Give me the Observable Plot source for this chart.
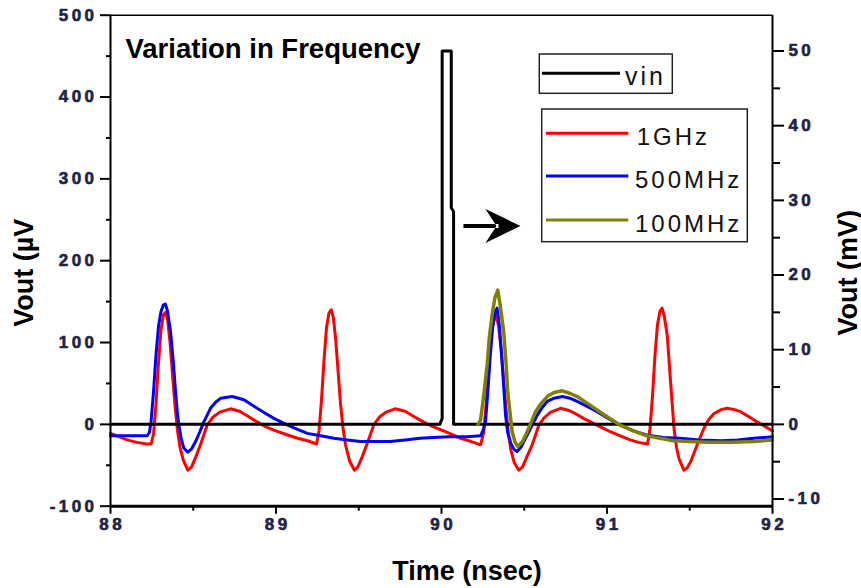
<!DOCTYPE html>
<html><head><meta charset="utf-8">
<script src="https://cdn.jsdelivr.net/npm/d3@7"></script>
<script src="https://cdn.jsdelivr.net/npm/@observablehq/plot@0.6"></script>
<style>
body{margin:0;background:#fff;}
svg text{font-family:"Liberation Sans",Arial,sans-serif;}
</style></head><body><div id="chart"></div>
<script>
// ---- data (µV vs ns; vin in mV) ----
const red1GHz = [[88.00,-11],[88.05,-15],[88.10,-19],[88.16,-22],[88.22,-24],[88.245,-24],[88.26,-12],[88.275,25],[88.29,75],[88.305,115],[88.32,134],[88.333,137],[88.345,128],[88.36,100],[88.375,60],[88.39,22],[88.405,-8],[88.42,-28],[88.44,-44],[88.467,-56],[88.49,-52],[88.515,-40],[88.545,-24],[88.584,-1],[88.62,9],[88.66,15],[88.725,19],[88.78,16],[88.83,10],[88.886,3],[88.94,-3],[88.987,-7],[89.07,-13],[89.13,-17],[89.19,-20],[89.245,-24],
[89.26,-8],[89.275,30],[89.29,78],[89.305,118],[89.32,136],[89.334,140],[89.347,130],[89.36,105],[89.375,65],[89.39,25],[89.405,-5],[89.42,-25],[89.445,-45],[89.474,-56],[89.495,-52],[89.52,-40],[89.55,-24],[89.59,-1],[89.625,9],[89.665,15],[89.72,19],[89.78,16],[89.83,10],[89.89,3],[89.94,-2],[89.99,-6],[90.06,-12],[90.115,-17],[90.18,-21],[90.236,-25],
[90.255,-10],[90.27,25],[90.285,75],[90.30,112],[90.318,128],[90.332,132],[90.345,120],[90.36,92],[90.375,55],[90.39,18],[90.405,-12],[90.42,-32],[90.44,-47],[90.467,-56],[90.49,-52],[90.515,-40],[90.548,-25],[90.588,-1],[90.62,8],[90.66,15],[90.719,19.6],[90.77,17],[90.81,13],[90.86,7],[90.90,3],[90.96,-3],[91.02,-9],[91.08,-14],[91.14,-19],[91.19,-22],[91.245,-24],
[91.26,-5],[91.275,35],[91.29,85],[91.305,122],[91.32,138],[91.333,142],[91.346,132],[91.364,109],[91.384,52],[91.405,-5],[91.42,-28],[91.435,-42],[91.464,-56],[91.485,-53],[91.505,-46],[91.545,-25],[91.585,-5],[91.615,6],[91.645,13],[91.69,18],[91.726,19.6],[91.77,18],[91.807,15.5],[91.86,9],[91.907,3],[91.95,-2],[92.00,-8]];

const blue500MHz = [[88.00,-14],[88.10,-14],[88.22,-14],[88.235,-10],[88.245,3],[88.26,40],[88.275,85],[88.29,120],[88.305,138],[88.32,146],[88.332,147],[88.345,138],[88.363,113],[88.38,75],[88.393,40],[88.405,12],[88.413,-1],[88.428,-18],[88.443,-29],[88.467,-34],[88.49,-30],[88.514,-21],[88.54,-9],[88.564,3],[88.604,19.6],[88.635,27],[88.665,31.8],[88.735,34],[88.806,30],[88.846,25],[88.886,19.6],[88.94,13],[88.987,7.3],[89.03,3],[89.07,-1],[89.13,-6],[89.19,-11],[89.27,-14],[89.35,-17],[89.43,-19],[89.51,-21],[89.60,-21],[89.69,-21],[89.78,-19],[89.87,-17],[89.95,-16],[90.05,-15],[90.15,-15],[90.236,-14],
[90.25,-8],[90.266,3],[90.28,40],[90.295,85],[90.31,120],[90.323,137],[90.336,142],[90.35,120],[90.365,80],[90.378,40],[90.387,11],[90.40,-10],[90.42,-24],[90.44,-31],[90.457,-33],[90.48,-28],[90.50,-20],[90.518,-13],[90.548,-1],[90.578,11],[90.61,21],[90.639,28],[90.68,32],[90.73,34],[90.775,32],[90.82,28],[90.88,22],[90.94,15.5],[91.01,7],[91.08,-1],[91.16,-8],[91.24,-13],[91.34,-16],[91.44,-17],[91.56,-19],[91.69,-20],[91.79,-19],[91.887,-17],[91.95,-16],[92.00,-15]];

const olive100MHz = [[90.22,0],[90.236,5],[90.255,35],[90.276,73],[90.29,108],[90.306,134],[90.323,155],[90.340,164],[90.355,145],[90.376,113],[90.39,75],[90.40,40],[90.415,12],[90.427,-9],[90.445,-22],[90.461,-27],[90.49,-21],[90.518,-9],[90.545,4],[90.568,15.5],[90.60,25],[90.639,34],[90.68,39],[90.729,41],[90.775,38],[90.82,34],[90.88,26],[90.94,17.6],[91.01,8],[91.08,-1],[91.16,-8],[91.24,-14],[91.32,-17],[91.40,-20],[91.50,-21],[91.605,-22],[91.75,-22],[91.887,-21],[92.00,-19]];

const vinMV = [[88.00,0],[89.99,0],[90.004,0.8],[90.004,50],[90.059,50],[90.059,29],[90.073,28.5],[90.073,0],[92.00,0]];

const xMajor = [88, 89, 90, 91, 92];
const xMinor = [88.5, 89.5, 90.5, 91.5];
const yLeftMajor = [-100, 0, 100, 200, 300, 400, 500];
const yLeftMinor = [-50, 50, 150, 250, 350, 450];
const yRightMajor = [-10, 0, 10, 20, 30, 40, 50];
const yRightMinor = [-5, 5, 15, 25, 35, 45];
const arrowAt = [[90.332, 242.5]];

const seriesNames = ["1GHz", "500MHz", "100MHz"];
const seriesColors = ["#ff0000", "#0000ff", "#808000"];

const K = 9.125; // µV per mV (right axis alignment)

const ink = "#222244";
const spaced = d => String(d).split("").join("\u2009");
const tickText = {fontSize: 17, fontWeight: "bold", fill: ink, stroke: ink, strokeWidth: 0.6};
const tickLine = {stroke: "black", strokeWidth: 2, tickFormat: () => "", label: null};

const arrowSymbol = {
  draw(ctx) {
    ctx.moveTo(24, 0); ctx.lineTo(-11, -17); ctx.lineTo(0, 0); ctx.lineTo(-11, 17); ctx.closePath();
    ctx.moveTo(-33, -2); ctx.lineTo(2, -2); ctx.lineTo(2, 2); ctx.lineTo(-33, 2); ctx.closePath();
  }
};

const plot = Plot.plot({
  width: 861, height: 588,
  marginLeft: 110, marginRight: 89, marginTop: 14.7, marginBottom: 82.3,
  style: {background: "white", fontFamily: "Liberation Sans, Arial, sans-serif", overflow: "visible"},
  x: {domain: [88, 92], axis: null},
  y: {domain: [-100, 500], axis: null},
  marks: [
    Plot.line(red1GHz, {x: d => d[0], y: d => d[1], stroke: seriesColors[0], strokeWidth: 3}),
    Plot.line(blue500MHz, {x: d => d[0], y: d => d[1], stroke: seriesColors[1], strokeWidth: 3}),
    Plot.line(vinMV, {x: d => d[0], y: d => d[1] * K, stroke: "black", strokeWidth: 3, curve: "linear"}),
    Plot.line(olive100MHz, {x: d => d[0], y: d => d[1], stroke: seriesColors[2], strokeWidth: 3.5}),
    Plot.dot(arrowAt, {x: d => d[0], y: d => d[1], symbol: arrowSymbol, fill: "black", stroke: "none"}),
    // frame
    Plot.ruleX([88], {stroke: "black", strokeWidth: 2}),
    Plot.ruleX([92], {stroke: "black", strokeWidth: 2}),
    Plot.ruleY([500], {stroke: "black", strokeWidth: 1.5}),
    Plot.ruleY([-100], {stroke: "black", strokeWidth: 3}),
    // tick marks
    Plot.axisY(yLeftMajor, {anchor: "left", tickSize: 10, ...tickLine}),
    Plot.axisY(yLeftMinor, {anchor: "left", tickSize: 4, ...tickLine}),
    Plot.axisY(yRightMajor.map(v => v * K), {anchor: "right", tickSize: 11, ...tickLine}),
    Plot.axisY(yRightMinor.map(v => v * K), {anchor: "right", tickSize: 7, ...tickLine}),
    Plot.axisX(xMajor, {anchor: "bottom", tickSize: 8, ...tickLine}),
    Plot.axisX(xMinor, {anchor: "bottom", tickSize: 5, ...tickLine}),
    // tick labels
    Plot.text(yLeftMajor, {x: () => 88, y: d => d, text: spaced, textAnchor: "end", lineAnchor: "middle", dx: -16.5, ...tickText}),
    Plot.text(yRightMajor, {x: () => 92, y: d => d * K, text: spaced, textAnchor: "start", lineAnchor: "middle", dx: 16, ...tickText}),
    Plot.text(xMajor, {x: d => d, y: () => -100, text: spaced, textAnchor: "middle", lineAnchor: "top", dy: 11.5, ...tickText}),
    // titles
    Plot.text(["Variation in Frequency"], {frameAnchor: "top-left", dx: 15, dy: 42.6, textAnchor: "start", lineAnchor: "bottom", fontSize: 27.5, fontWeight: "bold", fill: "black"}),
    Plot.text(["Time (nsec)"], {frameAnchor: "bottom", dx: 25.5, dy: 74, textAnchor: "middle", lineAnchor: "bottom", fontSize: 27, fontWeight: "bold", fill: "black"}),
    Plot.text(["Vout (\u00b5V"], {frameAnchor: "left", dx: -78, dy: 12, rotate: -90, textAnchor: "middle", lineAnchor: "bottom", fontSize: 27, fontWeight: "bold", fill: "black"}),
    Plot.text(["Vout (mV)"], {frameAnchor: "right", dx: 84, dy: 12, rotate: -90, textAnchor: "middle", lineAnchor: "bottom", fontSize: 27, fontWeight: "bold", fill: "black"})
  ]
});

document.getElementById("chart").appendChild(plot);

// legends
const svg = d3.select(plot);
const lg = svg.append("g").attr("font-family", "Liberation Sans, Arial, sans-serif").attr("text-anchor", "start");
lg.append("rect").attr("x", 539.3).attr("y", 54).attr("width", 133).attr("height", 39.3)
  .attr("fill", "white").attr("stroke", "#222").attr("stroke-width", 1.5);
lg.append("line").attr("x1", 542).attr("x2", 620).attr("y1", 73.3).attr("y2", 73.3).attr("stroke", "black").attr("stroke-width", 3);
lg.append("text").attr("x", 625).attr("y", 85).attr("font-size", 25).attr("letter-spacing", "3px").attr("fill", "#111").attr("text-anchor", "start").text("vin");

lg.append("rect").attr("x", 541.7).attr("y", 109).attr("width", 205.6).attr("height", 132.7)
  .attr("fill", "white").attr("stroke", "#222").attr("stroke-width", 1.5);
const rowsY = [133.3, 176, 220];
seriesNames.forEach((name, i) => {
  lg.append("line").attr("x1", 546).attr("x2", 628.3).attr("y1", rowsY[i]).attr("y2", rowsY[i])
    .attr("stroke", seriesColors[i]).attr("stroke-width", 3);
  lg.append("text").attr("x", i === 0 ? 636.7 : 635).attr("y", rowsY[i] + 11.7).attr("font-size", 24)
    .attr("letter-spacing", "3px").attr("fill", "#111").attr("text-anchor", "start").text(name);
});
</script>
</body></html>
